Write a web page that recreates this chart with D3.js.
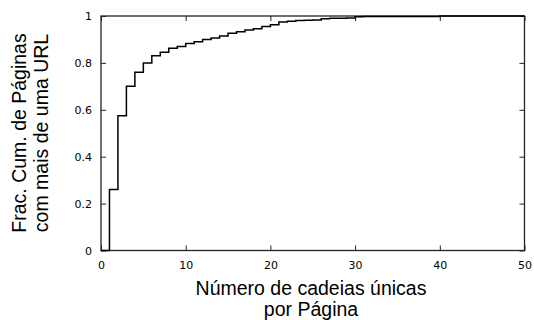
<!DOCTYPE html>
<html>
<head>
<meta charset="utf-8">
<script src="https://cdn.jsdelivr.net/npm/d3@7"></script>
<style>
  body { margin: 0; background: #fff; }
  svg { display: block; }
  .tick text { font-family: "DejaVu Sans", sans-serif; font-size: 11px; fill: #000; }
  .label { font-family: "Liberation Sans", Arial, sans-serif; font-size: 19.5px; fill: #000; }
</style>
</head>
<body>
<div class="chart"></div>
<script>
// unique strings per page vs cumulative fraction of pages
const uniqueCounts = [0, 1, 2, 3, 4, 5, 6, 7, 8, 9, 10, 11, 12, 13, 14, 15, 16, 17, 18, 19, 20,
  21, 22, 23, 24, 25, 26, 27, 28, 29, 30, 31, 40, 50]
const cumFrac = [0, 0.26, 0.575, 0.70, 0.76, 0.80, 0.83, 0.845, 0.862, 0.87, 0.883, 0.89, 0.90,
  0.906, 0.915, 0.926, 0.933, 0.94, 0.946, 0.955, 0.963, 0.974, 0.978, 0.981, 0.982, 0.983,
  0.988, 0.99, 0.99, 0.991, 0.997, 0.998, 1, 1]
const xTicks = [0, 10, 20, 30, 40, 50]
const yTicks = [0, 0.2, 0.4, 0.6, 0.8, 1]

const W = 534, H = 320
const margin = {top: 16, right: 9.5, bottom: 69.5, left: 101}
const width = W - margin.left - margin.right
const height = H - margin.top - margin.bottom

const svg = d3.select(".chart").append("svg")
  .attr("width", W)
  .attr("height", H)

const g = svg.append("g")
  .attr("transform", "translate(" + margin.left + "," + margin.top + ")")

const x = d3.scaleLinear().domain([0, 50]).range([0, width])
const y = d3.scaleLinear().domain([0, 1]).range([height, 0])

const fmt = (d) => d === 0 || d === 1 ? String(d) : d.toFixed(1)

// bottom / left axes with inward ticks
g.append("g")
  .attr("transform", "translate(0," + height + ")")
  .call(d3.axisBottom(x).tickValues(xTicks).tickSizeInner(-5).tickSizeOuter(0).tickPadding(11))
g.append("g")
  .call(d3.axisLeft(y).tickValues(yTicks).tickFormat(fmt).tickSizeInner(-5).tickSizeOuter(0).tickPadding(9))

// mirrored ticks on top and right
g.append("g")
  .call(d3.axisTop(x).tickValues(xTicks).tickSizeInner(-5).tickSizeOuter(0).tickFormat(""))
g.append("g")
  .attr("transform", "translate(" + width + ",0)")
  .call(d3.axisRight(y).tickValues(yTicks).tickSizeInner(-5).tickSizeOuter(0).tickFormat(""))

g.selectAll(".domain").remove()
g.selectAll(".tick line").attr("stroke", "#222").attr("stroke-width", 1)

g.append("rect")
  .attr("width", width)
  .attr("height", height)
  .attr("fill", "none")
  .attr("stroke", "#222")
  .attr("stroke-width", 1.3)

const pts = uniqueCounts.map((d, i) => [d, cumFrac[i]])

const line = d3.line()
  .x((d) => x(d[0]))
  .y((d) => y(d[1]))
  .curve(d3.curveStepAfter)

g.append("path")
  .datum(pts)
  .attr("fill", "none")
  .attr("stroke", "#000")
  .attr("stroke-width", 1.5)
  .attr("d", line)

// axis titles
const xl = svg.append("text")
  .attr("class", "label")
  .attr("text-anchor", "middle")
xl.append("tspan").attr("x", 311).attr("y", 295).text("Número de cadeias únicas")
xl.append("tspan").attr("x", 311).attr("y", 316).text("por Página")

const yl = svg.append("text")
  .attr("class", "label")
  .attr("text-anchor", "middle")
  .attr("transform", "translate(0,133) rotate(-90)")
yl.append("tspan").attr("x", 0).attr("y", 26).text("Frac. Cum. de Páginas")
yl.append("tspan").attr("x", 0).attr("y", 48).text("com mais de uma URL")
</script>
</body>
</html>
